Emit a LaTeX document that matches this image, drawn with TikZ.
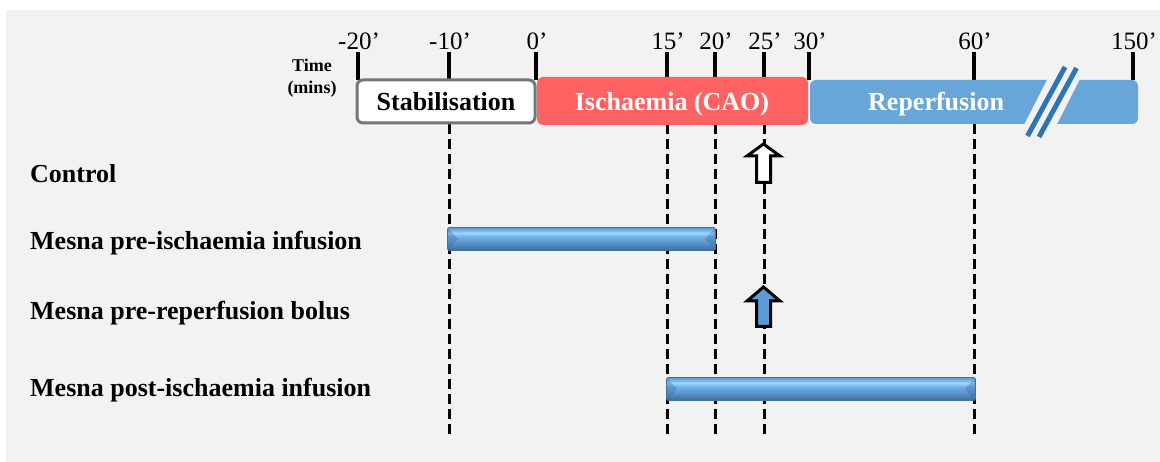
\documentclass[tikz,border=0pt]{standalone}
\usepackage{fontspec}
\setmainfont{Liberation Serif}
\definecolor{bgc}{HTML}{F2F2F2}
\definecolor{isch}{HTML}{FF6262}
\definecolor{repf}{HTML}{68A5D9}
\definecolor{brk}{HTML}{2E75B6}
\definecolor{stabb}{HTML}{767676}
\definecolor{arrb}{HTML}{5B9BD5}
\definecolor{barD}{HTML}{3D6A96}
\definecolor{barM}{HTML}{5590C8}
\definecolor{barL}{HTML}{74B5EC}
\definecolor{barH}{HTML}{A0D6FC}
\definecolor{barT}{HTML}{5C98CF}
\definecolor{barE}{HTML}{41719C}
\pgfdeclareverticalshading{barshade}{100bp}{color(0bp)=(barD); color(25bp)=(barD); color(40bp)=(barM); color(56bp)=(barL); color(63bp)=(barH); color(69bp)=(barL); color(75bp)=(barT); color(100bp)=(barT)}
\begin{document}
\begin{tikzpicture}[x=1pt,y=-1pt,
  lbl/.style={font=\bfseries\fontsize{26}{30}\selectfont, anchor=base west, inner sep=0pt},
  boxlbl/.style={font=\bfseries\fontsize{26}{30}\selectfont, inner sep=0pt},
  ticklbl/.style={font=\fontsize{25}{28}\selectfont, anchor=base, inner sep=0pt},
  tickline/.style={line width=4pt, black},
  guide/.style={line width=3pt, black, dash pattern=on 10pt off 5pt},
  phase/.style={rounded corners=6pt, inner sep=0pt, text height=18pt, text depth=0pt},
  mbar/.style={shading=barshade, draw=barE, line width=0.8pt, rounded corners=2pt},
  bevel/.style={fill=barD, fill opacity=0.35, draw=none},
  upar/.style={line width=3pt, black, line join=miter}
]
\useasboundingbox (0,0) rectangle (1160,462);
\fill[bgc] (6,10) rectangle (1160,462);

% ticks and tick labels
\foreach \x/\t in {358/-20,449/-10,536/0,667/15,715/20,764/25,809/30,974/60,1133/150}{
  \coordinate (tt\t) at (\x,52);
  \coordinate (tb\t) at (\x,80);
  \draw[tickline] (tt\t) -- (tb\t);
  \node[ticklbl] (tl\t) at (\x+1,50) {\t’};
}
\node[font=\bfseries\fontsize{18}{22}\selectfont, anchor=base, inner sep=0pt] (timea) at (312,72) {Time};
\node[font=\bfseries\fontsize{18}{22}\selectfont, anchor=base, inner sep=0pt] (timeb) at (312,94) {(mins)};

% guide lines
\foreach \x/\n in {449/a,667/b,715/c,764/d,974/e}{
  \coordinate (gt\n) at (\x,124);
  \coordinate (gb\n) at (\x,437);
  \draw[guide] (gt\n) -- (gb\n);
}

% phase boxes
\node[phase, draw=stabb, line width=3pt, fill=white, minimum width=178pt, minimum height=43pt] (stab) at (446,101.5) {};
\node[boxlbl, anchor=base] (stabt) at (446,111) {Stabilisation};
\node[phase, fill=isch, minimum width=271pt, minimum height=48pt] (isch) at (672.5,101) {};
\node[boxlbl, anchor=base, text=white] (ischt) at (672,111) {Ischaemia (CAO)};
\node[phase, fill=repf, minimum width=328pt, minimum height=44pt] (repf) at (974,102) {};
\node[boxlbl, anchor=base west, text=white] (repft) at (868,110.5) {Reperfusion};

% axis break
\fill[bgc] (1048.5,77) -- (1081,77) -- (1055.5,127) -- (1023,127) -- cycle;
\draw[brk, line width=5pt] (1065,67) -- (1027.5,136);
\draw[brk, line width=5pt] (1076.5,68) -- (1039,137);

% group labels
\node[lbl] (ctrl) at (30,183) {Control};
\node[lbl] (pre) at (30,250) {Mesna pre-ischaemia infusion};
\node[lbl] (bolus) at (30,320) {Mesna pre-reperfusion bolus};
\node[lbl] (post) at (30,397) {Mesna post-ischaemia infusion};

% infusion bars
\path[mbar] (447.5,227.5) rectangle (715.5,250.5);
\fill[bevel] (448,228) -- (458,239) -- (448,250) -- cycle;
\fill[bevel] (715,228) -- (705,239) -- (715,250) -- cycle;
\path[mbar] (666.5,377.5) rectangle (975.5,400.5);
\fill[bevel] (667,378) -- (677,389) -- (667,400) -- cycle;
\fill[bevel] (975,378) -- (965,389) -- (975,400) -- cycle;

% arrows
\draw[upar, fill=white] (763.5,144) -- (780,156) -- (770.5,156) -- (770.5,182.5) -- (756.5,182.5) -- (756.5,156) -- (747,156) -- cycle;
\draw[upar, fill=arrb] (763.5,287) -- (780,301) -- (770.5,301) -- (770.5,326.5) -- (756.5,326.5) -- (756.5,301) -- (747,301) -- cycle;
\end{tikzpicture}
\end{document}
